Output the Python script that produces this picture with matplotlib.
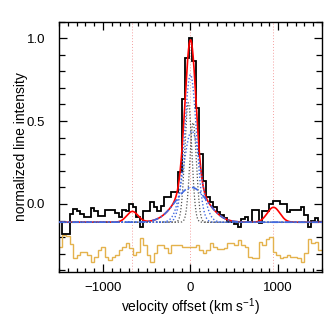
import numpy as np
import matplotlib
matplotlib.use("Agg")
import matplotlib.pyplot as plt

plt.rcParams['font.family'] = ['Liberation Sans', 'DejaVu Sans']
plt.rcParams['mathtext.fontset'] = 'custom'
plt.rcParams['mathtext.rm'] = 'Liberation Sans'
plt.rcParams['mathtext.it'] = 'Liberation Sans:italic'

# observed spectrum, 40 km/s bins from -1500 to 1500
vel_edges = np.arange(-1500, 1501, 40)
flux = [-0.11, -0.18, -0.18, -0.06, -0.03, -0.04, -0.06, -0.08, -0.08, -0.025,
        -0.04, -0.07, -0.07, -0.036, -0.036, -0.036, -0.056, -0.08, -0.036, -0.04,
        0.0, -0.02, -0.08, -0.14, -0.04, -0.04, 0.01, -0.016, -0.04, -0.015,
        0.045, 0.045, 0.075, 0.07, 0.19, 0.63, 0.88, 1.0, 0.86, 0.58,
        0.30, 0.14, 0.045, 0.014, -0.016, -0.046, -0.066, -0.086, -0.107, -0.107,
        -0.12, -0.137, -0.09, -0.076, -0.11, -0.036, -0.036, -0.115, -0.04, -0.04,
        0.0, 0.015, 0.015, 0.0, 0.0, -0.05, -0.036, -0.036, -0.036, -0.016,
        -0.066, -0.137, -0.10, -0.086, -0.107]
# residuals (offset)
resid = [-0.257, -0.187, -0.19, -0.24, -0.327, -0.307, -0.287, -0.29, -0.307, -0.347,
         -0.317, -0.277, -0.257, -0.317, -0.337, -0.317, -0.307, -0.277, -0.257, -0.237,
         -0.267, -0.307, -0.287, -0.207, -0.247, -0.307, -0.35, -0.297, -0.245, -0.25,
         -0.267, -0.297, -0.25, -0.25, -0.247, -0.257, -0.257, -0.26, -0.26, -0.247,
         -0.277, -0.293, -0.277, -0.237, -0.26, -0.27, -0.27, -0.267, -0.237, -0.237,
         -0.247, -0.217, -0.247, -0.26, -0.317, -0.327, -0.327, -0.227, -0.247, -0.21,
         -0.197, -0.287, -0.307, -0.327, -0.317, -0.305, -0.317, -0.32, -0.327, -0.35,
         -0.297, -0.213, -0.237, -0.23, -0.28]

# fit parameters (center, amplitude, sigma) in km/s
baseline = -0.11
broad = (10, 0.21, 180)
narrow = (0, 0.89, 62)
bumps = [(-663, 0.065, 65), (947, 0.09, 72)]
blue_comp = [(0, 0.89, 68), (15, 0.55, 95)]
grey_comp = [(-25, 0.72, 40), (30, 0.6, 38)]
vlines = [-663, 0, 947]


def gauss(v, p):
    c, a, s = p
    return a * np.exp(-0.5 * ((v - c) / s) ** 2)


v = np.linspace(-1500, 1500, 1501)
total = baseline + gauss(v, broad) + gauss(v, narrow)
for p in bumps:
    total = total + gauss(v, p)

fig = plt.figure(figsize=(3.34, 3.24), dpi=100)
ax = fig.add_axes([0.1766, 0.1605, 0.7874, 0.7731])

for x0 in vlines:
    ax.axvline(x0, color='#f4a0a0', lw=0.7, ls=(0, (1, 2)), zorder=1)

ax.stairs(resid, vel_edges, baseline=None, color='#e4b24c', lw=1.0, zorder=2)
ax.stairs(flux, vel_edges, baseline=None, color='k', lw=1.3, zorder=3)
ax.plot(v, total, color='red', lw=1.2, zorder=4)
for p in grey_comp:
    ax.plot(v, baseline + gauss(v, p), color='#555555', lw=0.9, ls=(0, (1, 1.5)), zorder=5)
for p in blue_comp:
    ax.plot(v, baseline + gauss(v, p), color='#4169e1', lw=1.0, ls=(0, (1, 1.5)), zorder=5)
ax.plot(v, baseline + gauss(v, broad), color='#4169e1', lw=1.2, ls=(0, (4, 1.5, 1, 1.5)), zorder=6)

ax.set_xlim(-1500, 1500)
ax.set_ylim(-0.41, 1.1)
ax.set_xticks([-1000, 0, 1000])
ax.set_xticklabels(['\u22121000', '0', '1000'])
ax.set_xticks(np.arange(-1500, 1501, 100), minor=True)
ax.set_yticks([0.0, 0.5, 1.0])
ax.set_yticklabels(['0.0', '0.5', '1.0'])
ax.set_yticks(np.arange(-0.4, 1.11, 0.1), minor=True)
ax.tick_params(which='both', direction='in', top=True, right=True, labelsize=9.5, width=0.9)
ax.tick_params(axis='x', which='major', length=5.5, pad=7)
ax.tick_params(axis='x', which='minor', length=3)
ax.tick_params(axis='y', which='major', length=5.5, pad=10)
ax.tick_params(axis='y', which='minor', length=4.5)
for s in ax.spines.values():
    s.set_linewidth(1.0)

ax.set_xlabel('velocity offset (km s$^{-1}$)', fontsize=10, labelpad=2)
ax.set_ylabel('normalized line intensity', fontsize=10, labelpad=-1)

fig.savefig('out.png', dpi=100)
